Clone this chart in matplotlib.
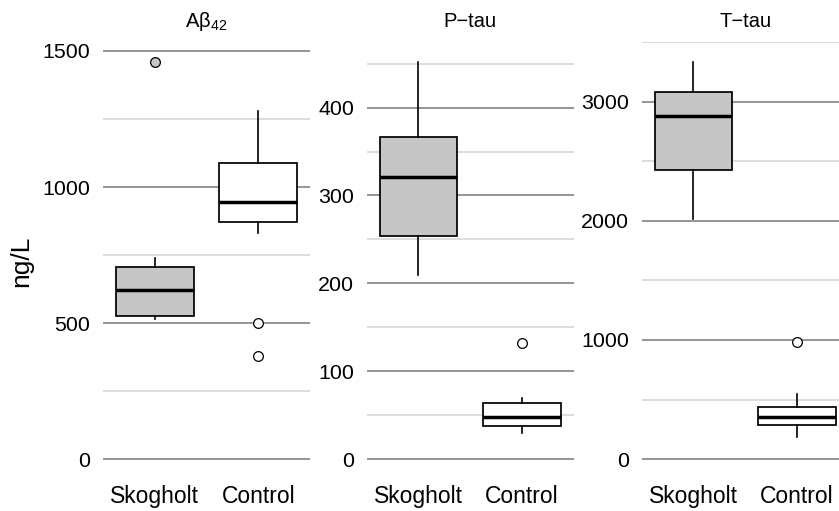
import matplotlib
matplotlib.use("Agg")
import matplotlib.pyplot as plt

plt.rcParams['font.family'] = ['Liberation Sans', 'DejaVu Sans']
plt.rcParams['mathtext.default'] = 'regular'

# Data (box statistics)
groups = ['Skogholt', 'Control']
fills = ['#c6c6c6', 'white']

titles = ['A\u03b2$_{42}$', 'P\u2212tau', 'T\u2212tau']

ab42_med = [621, 946]
ab42_q1 = [526, 871]
ab42_q3 = [706, 1087]
ab42_lo = [514, 832]
ab42_hi = [740, 1279]
ab42_out = [[1460], [500, 380]]

ptau_med = [321, 48]
ptau_q1 = [254, 38]
ptau_q3 = [367, 64]
ptau_lo = [209, 30]
ptau_hi = [452, 70]
ptau_out = [[], [132]]

ttau_med = [2880, 350]
ttau_q1 = [2428, 286]
ttau_q3 = [3081, 437]
ttau_lo = [2019, 185]
ttau_hi = [3333, 549]
ttau_out = [[], [980]]

major_ticks = [[0, 500, 1000, 1500], [0, 100, 200, 300, 400], [0, 1000, 2000, 3000]]
minor_ticks = [[250, 750, 1250], [50, 150, 250, 350, 450], [500, 1500, 2500, 3500]]

panels = [
    (ab42_med, ab42_q1, ab42_q3, ab42_lo, ab42_hi, ab42_out),
    (ptau_med, ptau_q1, ptau_q3, ptau_lo, ptau_hi, ptau_out),
    (ttau_med, ttau_q1, ttau_q3, ttau_lo, ttau_hi, ttau_out),
]

W, H = 839, 511
fig = plt.figure(figsize=(W / 100, H / 100), dpi=100)

lefts = [103, 366.7, 641.7]
pw = 207
top_px, bot_px = 42, 479

for i, (med, q1, q3, lo, hi, out) in enumerate(panels):
    ax = fig.add_axes([lefts[i] / W, 1 - bot_px / H, pw / W, (bot_px - top_px) / H])
    stats = []
    for j in range(2):
        stats.append(dict(med=med[j], q1=q1[j], q3=q3[j], whislo=lo[j], whishi=hi[j],
                          fliers=out[j], label=groups[j]))
    bp = ax.bxp(stats, positions=[1, 2], widths=0.75, patch_artist=True, showcaps=False,
                boxprops=dict(edgecolor='black', linewidth=1.25),
                whiskerprops=dict(color='black', linewidth=1.2),
                medianprops=dict(color='black', linewidth=2.5, solid_capstyle='butt'),
                flierprops=dict(marker='o', markersize=7, markeredgecolor='black',
                                markeredgewidth=0.9))
    for j, box in enumerate(bp['boxes']):
        box.set_facecolor(fills[j])
    for j, fl in enumerate(bp['fliers']):
        fl.set_markerfacecolor(fills[j])

    ymax = max(max(hi), max([max(o) if o else 0 for o in out]))
    pad = 0.05 * ymax
    ax.set_ylim(-pad, ymax + pad)
    ax.set_xlim(0.5, 2.5)
    ax.set_yticks(major_ticks[i])
    ax.set_yticks(minor_ticks[i], minor=True)
    ax.set_xticks([1, 2])
    ax.set_xticklabels(groups, fontsize=16.5)
    ax.tick_params(axis='y', labelsize=15.4, length=0, pad=9)
    ax.tick_params(axis='y', which='minor', length=0)
    ax.tick_params(axis='x', length=0, pad=4)
    ax.set_axisbelow(True)
    ax.grid(axis='y', which='major', color='#8c8c8c', linewidth=1.3)
    ax.grid(axis='y', which='minor', color='#dadada', linewidth=1.3)
    for s in ax.spines.values():
        s.set_visible(False)
    ax.set_title(titles[i], fontsize=14.5, pad=11)

fig.text(21 / W, 1 - 261 / H, 'ng/L', rotation=90, fontsize=19, ha='center', va='center')

fig.savefig('out.png', dpi=100)
